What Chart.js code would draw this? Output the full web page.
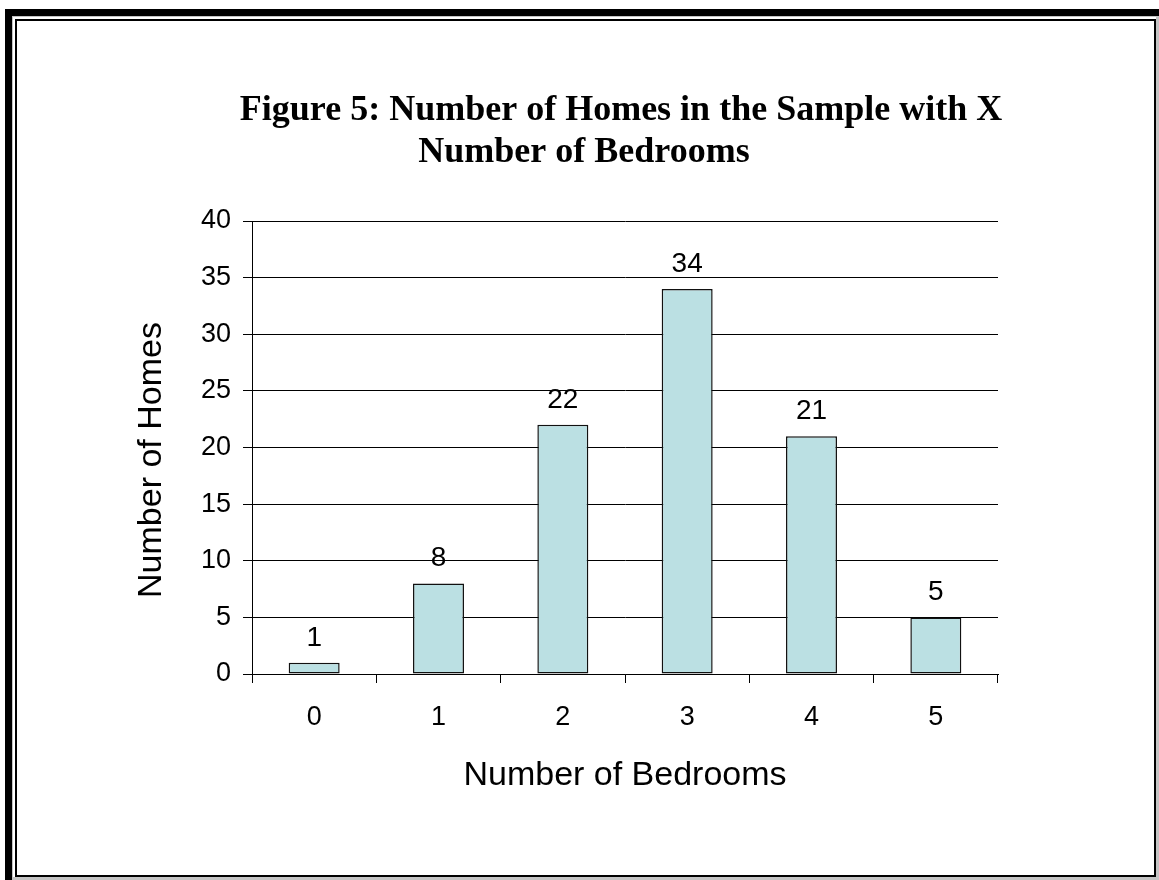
<!DOCTYPE html>
<html>
<head>
<meta charset="utf-8">
<title>Figure 5</title>
<script src="https://cdn.jsdelivr.net/npm/chart.js@4"></script>
<style>
  html, body { margin: 0; padding: 0; background: #fff; }
  body { width: 1159px; height: 880px; position: relative; overflow: hidden; }
  .frame-outer {
    position: absolute; left: 5px; top: 9px; right: 0; bottom: 0;
    box-sizing: border-box; background: #c4c4c4;
    border-left: 7px solid #000; border-top: 7px solid #000;
  }
  .frame-white {
    position: absolute; left: 13px; top: 17px; right: 3px; bottom: 3px;
    background: #fff;
  }
  .frame-inner {
    position: absolute; left: 15px; top: 19px; right: 3px; bottom: 3px;
    box-sizing: border-box; border: 2px solid #000; background: #fff;
  }
  #wrap { position: absolute; left: 0; top: 0; width: 1159px; height: 880px; }
</style>
</head>
<body>
<div class="frame-outer"></div>
<div class="frame-white"></div>
<div class="frame-inner"></div>
<div id="wrap"><canvas id="bedroomChart"></canvas></div>

<script>
// data
const bedrooms = ["0", "1", "2", "3", "4", "5"];
const homeCounts = [1, 8, 22, 34, 21, 5];
const chartTitle = ["Figure 5: Number of Homes in the Sample with X", "Number of Bedrooms"];
const xTitle = "Number of Bedrooms";
const yTitle = "Number of Homes";

const sansFont = "'Liberation Sans', Arial, Helvetica, sans-serif";
const serifFont = "'Liberation Serif', 'Times New Roman', Times, serif";

// title lines, y title and the numbers above the bars
const extrasPlugin = {
  id: "extras",
  afterDatasetsDraw(chart) {
    const ctx = chart.ctx;
    ctx.save();
    ctx.fillStyle = "#000";

    // title, 2 lines (line 2 sits a bit left like the original)
    ctx.font = "bold 36px " + serifFont;
    ctx.textAlign = "center";
    ctx.textBaseline = "alphabetic";
    ctx.fillText(chartTitle[0], 621, 120);
    ctx.fillText(chartTitle[1], 584, 162);

    // y axis title
    ctx.font = "34px " + sansFont;
    ctx.translate(152, 460);
    ctx.rotate(-Math.PI / 2);
    ctx.textBaseline = "middle";
    ctx.fillText(yTitle, 0, 0);
    ctx.setTransform(1, 0, 0, 1, 0, 0);

    // data labels
    ctx.font = "28px " + sansFont;
    ctx.textBaseline = "alphabetic";
    const meta = chart.getDatasetMeta(0);
    meta.data.forEach((bar, i) => {
      ctx.fillText(String(homeCounts[i]), bar.x, bar.y - 17);
    });
    ctx.restore();
  },
};

const bedroomChart = new Chart(document.getElementById("bedroomChart"), {
  type: "bar",
  data: {
    labels: bedrooms,
    datasets: [
      {
        label: "Homes",
        data: homeCounts,
        backgroundColor: "#bbe0e3",
        borderColor: "#111",
        borderWidth: 1.5,
        borderSkipped: false,
        barPercentage: 0.41,
        categoryPercentage: 1,
      },
    ],
  },
  options: {
    responsive: true,
    maintainAspectRatio: false,
    animation: false,
    layout: {
      padding: { left: 130, top: 221, right: 161, bottom: 0 },
    },
    plugins: {
      legend: { display: false },
      title: { display: false },
      tooltip: { enabled: false },
    },
    scales: {
      x: {
        afterFit(scale) {
          scale.height = 206;
        },
        grid: {
          offset: true,
          drawOnChartArea: false,
          drawTicks: true,
          tickLength: 9,
          color: "#000",
        },
        border: { display: true, color: "#000", width: 1 },
        ticks: {
          color: "#000",
          padding: 18,
          font: { family: sansFont, size: 27 },
        },
        title: {
          display: true,
          text: xTitle,
          color: "#000",
          font: { family: sansFont, size: 34 },
          padding: { top: 0, bottom: 84 },
        },
      },
      y: {
        min: 0,
        max: 40,
        afterFit(scale) {
          scale.width = 122;
        },
        grid: {
          color: "#000",
          drawTicks: true,
          tickLength: 9,
        },
        border: { display: true, color: "#000", width: 1 },
        ticks: {
          stepSize: 5,
          color: "#000",
          padding: 12,
          font: { family: sansFont, size: 27 },
        },
      },
    },
  },
  plugins: [extrasPlugin],
});
</script>
</body>
</html>
